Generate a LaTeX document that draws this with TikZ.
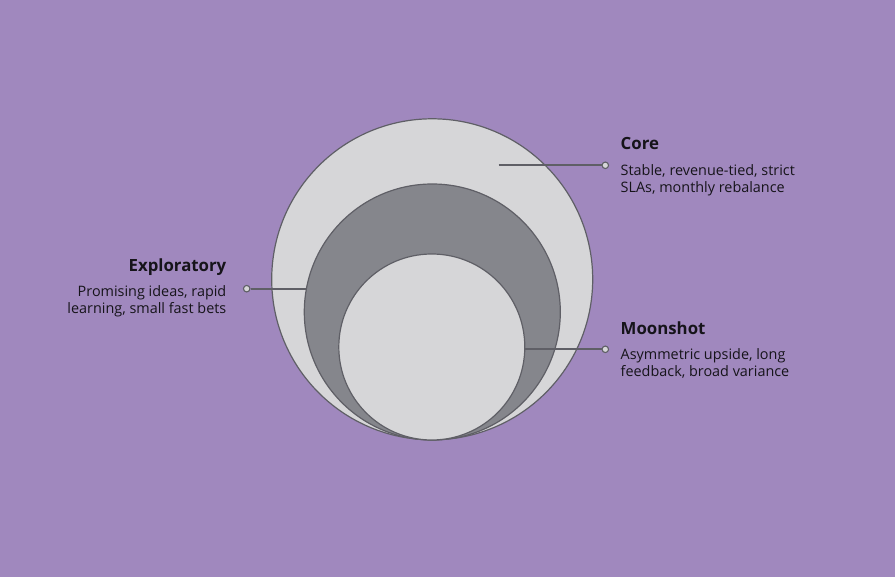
\documentclass[tikz,border=0pt]{standalone}
\usepackage{fontspec}
\setmainfont{Open Sans}
\definecolor{bgc}{RGB}{160,136,190}
\definecolor{lightc}{RGB}{214,214,216}
\definecolor{midc}{RGB}{133,134,140}
\definecolor{strokec}{RGB}{95,95,102}
\definecolor{textc}{RGB}{22,20,26}
\begin{document}
\begin{tikzpicture}[x=1pt,y=-1pt,
  ring/.style={circle,draw=strokec,line width=1.2pt,inner sep=0pt},
  lead/.style={draw=strokec,line width=1.8pt},
  dot/.style={circle,draw=strokec,fill=lightc,line width=1.1pt,minimum size=6.5pt,inner sep=0pt},
  ttl/.style={font=\fontsize{16.8}{18}\selectfont\bfseries,text=textc,inner sep=0pt},
  bod/.style={font=\fontsize{14.4}{17}\selectfont,text=textc,inner sep=0pt,align=left}]
\fill[bgc] (0,0) rectangle (895,577);
\useasboundingbox (0,0) rectangle (895,577);
\node[ring,fill=lightc,minimum size=321pt] (outer) at (432.2,279.3) {};
\node[ring,fill=midc,minimum size=256pt] (middle) at (432.3,312) {};
\node[ring,fill=lightc,minimum size=186pt] (inner) at (431.8,347) {};
% Core
\coordinate (corein) at (498.7,165.3);
\node[dot] (coredot) at (605.3,165.3) {};
\draw[lead] (corein) -- (coredot);
\node[ttl,anchor=base west] (coret) at (620.5,149.3) {Core};
\node[bod,anchor=base west] (coreb1) at (620.5,175.7) {Stable, revenue-tied, strict};
\node[bod,anchor=base west] (coreb2) at (620.5,192.7) {SLAs, monthly rebalance};
% Exploratory
\coordinate (expin) at (305.5,288.7);
\node[dot] (expdot) at (246.7,288.7) {};
\draw[lead] (expdot) -- (expin);
\node[ttl,anchor=base east] (expt) at (226.5,271.7) {Exploratory};
\node[bod,anchor=base east] (expb1) at (226.5,296.7) {Promising ideas, rapid};
\node[bod,anchor=base east] (expb2) at (226.5,313.3) {learning, small fast bets};
% Moonshot
\coordinate (moonin) at (524.8,349.3);
\node[dot] (moondot) at (605.3,349.3) {};
\draw[lead] (moonin) -- (moondot);
\node[ttl,anchor=base west] (moont) at (620.5,335) {Moonshot};
\node[bod,anchor=base west] (moonb1) at (620.5,360) {Asymmetric upside, long};
\node[bod,anchor=base west] (moonb2) at (620.5,376.7) {feedback, broad variance};
\end{tikzpicture}
\end{document}
